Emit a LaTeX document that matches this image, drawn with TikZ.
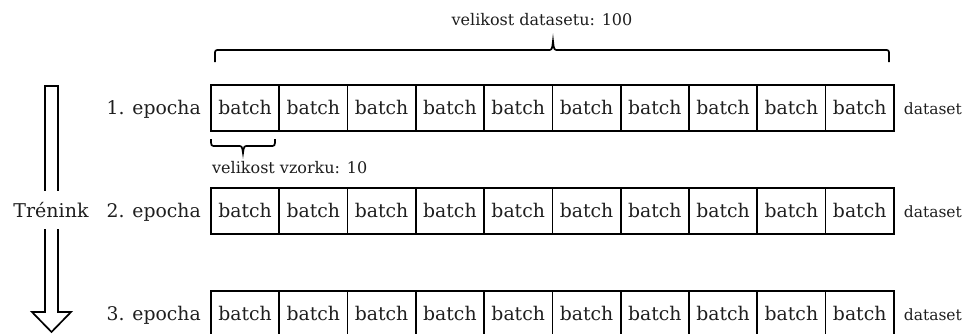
\documentclass[tikz,border=0pt]{standalone}
\usepackage{fontspec}
\setmainfont{DejaVu Serif}
\definecolor{txt}{HTML}{1E1E1E}
\tikzset{
  cell/.style={draw=black, line width=1.7pt, minimum width=68.3pt, minimum height=46pt, inner sep=0pt, anchor=north west, font=\fontsize{18.8}{20}\selectfont, text=txt},
  eplabel/.style={anchor=base east, font=\fontsize{18.8}{20}\selectfont, text=txt, inner sep=0pt},
  dslabel/.style={anchor=base west, font=\fontsize{15.5}{18}\selectfont, text=txt, inner sep=0pt},
  small/.style={font=\fontsize{16}{18}\selectfont, text=txt, inner sep=0pt},
  bracestyle/.style={draw=black, line width=1.7pt},
  arrowstyle/.style={draw=black, line width=1.7pt, line join=miter, fill=white}
}
\begin{document}
\begin{tikzpicture}[x=1pt, y=-1pt]
\useasboundingbox (0,0) rectangle (967,333);
% training arrow
\draw[arrowstyle] (45,86) -- (58,86) -- (58,312) -- (71,312) -- (51.5,332) -- (32,312) -- (45,312) -- cycle;
\node[fill=white, inner xsep=1pt, inner ysep=11pt, font=\fontsize{19}{20}\selectfont, text=txt] (train) at (51,210) {Trénink};
% rows
\foreach \r/\y in {1/84,2/187,3/290}{
  \foreach \i in {0,...,9}{
    \node[cell] (c\r-\i) at ({210+\i*68.3},\y) {batch};
  }
  \node[eplabel] (e\r) at ([xshift=-9pt]c\r-0.base west) {\r. epocha};
  \node[dslabel] (d\r) at ([xshift=9pt]c\r-9.base east) {dataset};
}
% top brace
\draw[bracestyle] (215,62) -- (215,55) .. controls (215,50) .. (220,50) -- (548,50) .. controls (552,50) .. (553,41) .. controls (554,50) .. (558,50) -- (884,50) .. controls (889,50) .. (889,55) -- (889,62);
\node[small, anchor=base] (dssize) at (542,25) {velikost datasetu: 100};
% small brace
\draw[bracestyle] (211,139) .. controls (211,146) .. (216,146) -- (238,146) .. controls (242,146) .. (243,153) .. controls (244,146) .. (248,146) -- (270,146) .. controls (275,146) .. (275,139);
\node[small, anchor=base west] (bsize) at (212,173) {velikost vzorku: 10};
\end{tikzpicture}
\end{document}
